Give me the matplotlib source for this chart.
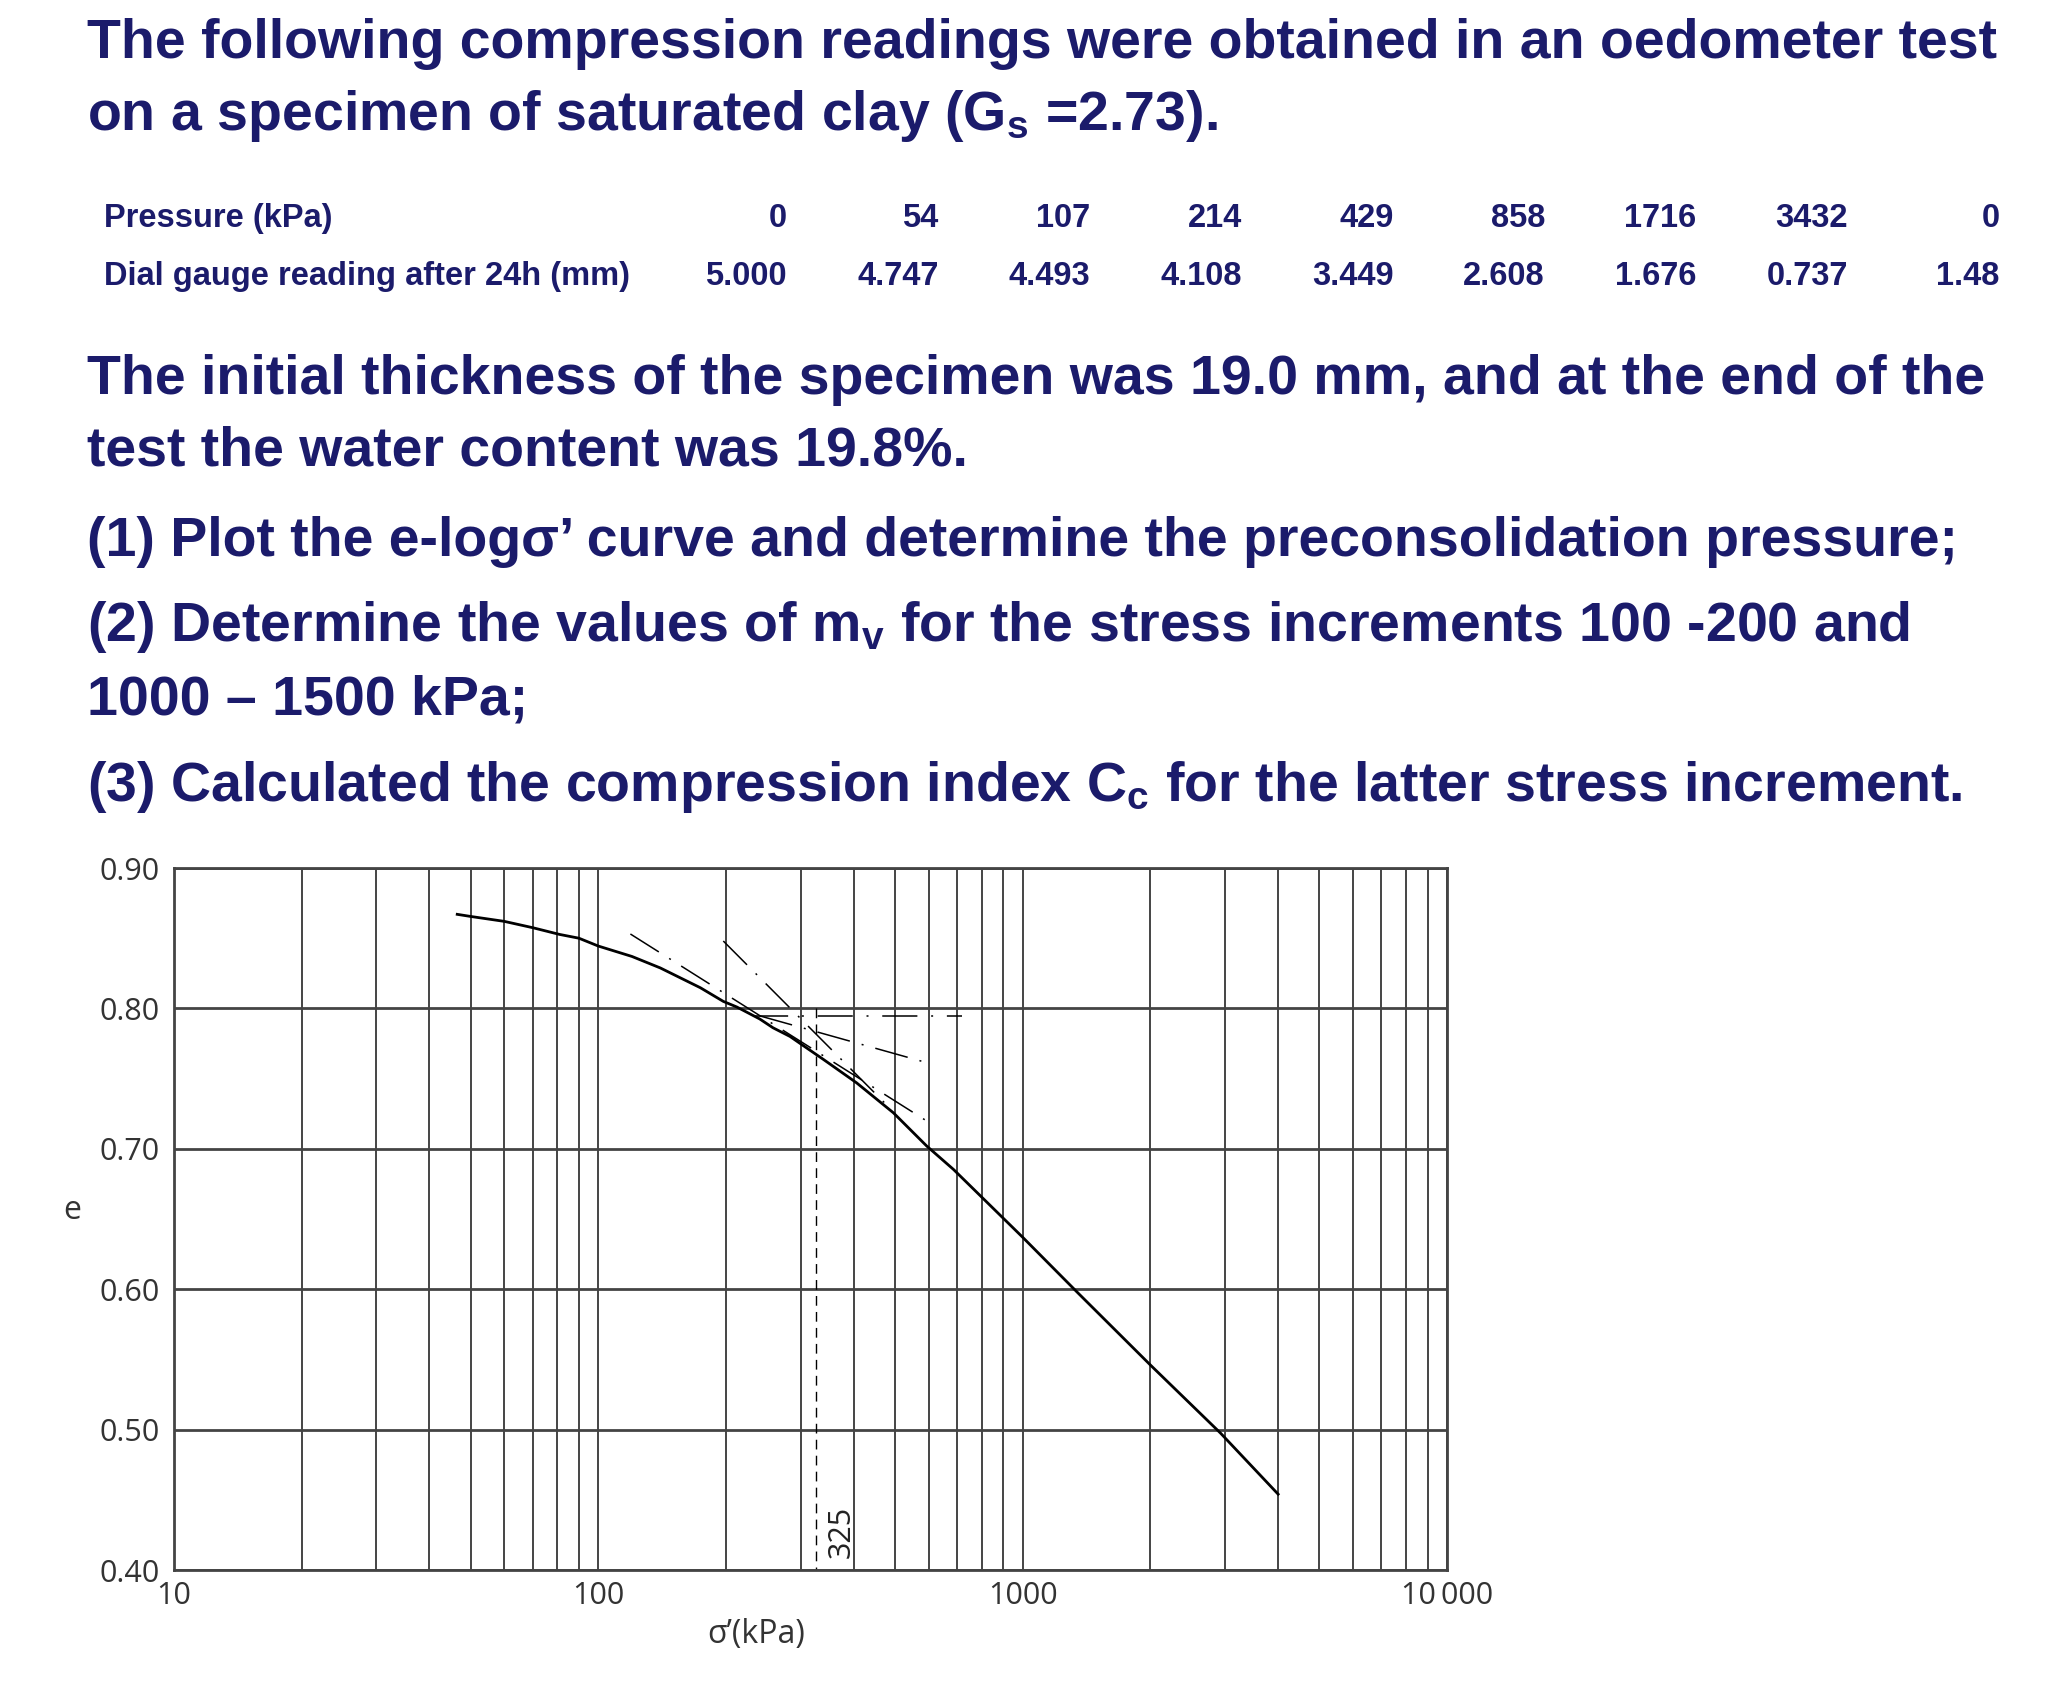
import matplotlib
matplotlib.use("Agg")
import matplotlib.pyplot as plt
from matplotlib.ticker import LogLocator, NullFormatter
import numpy as np

plt.rcParams['mathtext.fontset'] = 'custom'
plt.rcParams['mathtext.rm'] = 'Liberation Sans'
plt.rcParams['mathtext.bf'] = 'Liberation Sans:bold'
plt.rcParams['mathtext.it'] = 'Liberation Sans:italic'

NAVY = '#1b1b6b'
GRID = '#444444'
W, H = 2046, 1685

# oedometer readings (table)
pressure_kpa = ['0', '54', '107', '214', '429', '858', '1716', '3432', '0']
dial_mm = ['5.000', '4.747', '4.493', '4.108', '3.449', '2.608', '1.676', '0.737', '1.48']

# e - log sigma' curve
curve_sigma = [46.5, 50, 60, 70, 81, 90, 100, 120, 140, 174, 197, 212, 240, 258,
               283, 304, 339, 406, 496, 594, 687, 1000, 1343, 2000, 2926, 4000]
curve_e = [0.867, 0.8655, 0.862, 0.8575, 0.8527, 0.850, 0.8444, 0.837, 0.8288,
           0.8147, 0.805, 0.801, 0.7925, 0.7862, 0.780, 0.7735, 0.7637, 0.747,
           0.7256, 0.702, 0.6853, 0.637, 0.598, 0.546, 0.4975, 0.454]

# Casagrande construction lines
tangent_sigma = [119, 600]
tangent_e = [0.853, 0.719]
virgin_sigma = [197, 490]
virgin_e = [0.848, 0.728]
horiz_sigma = [232, 720]
horiz_e = [0.7945, 0.7945]
bisector_sigma = [240, 600]
bisector_e = [0.7947, 0.761]
sigma_c = 325

x_ticks = [10, 100, 1000, 10000]
x_ticklabels = ['10', '100', '1000', '10\u2009000']
y_ticks = [0.40, 0.50, 0.60, 0.70, 0.80, 0.90]

fig = plt.figure(figsize=(W / 100, H / 100), dpi=100)


def ftext(x_px, y_px, s, **kw):
    """place text using pixel coords (y measured from top, baseline)"""
    kw.setdefault('va', 'baseline')
    return fig.text(x_px / W, 1 - y_px / H, s, **kw)


big = dict(fontsize=40, fontweight='bold', color=NAVY, family='Liberation Sans')
ftext(87, 58, 'The following compression readings were obtained in an oedometer test', **big)
ftext(87, 130, r'on a specimen of saturated clay (G$_\mathbf{s}$ =2.73).', **big)

small = dict(fontsize=23.5, fontweight='bold', color=NAVY, family='Liberation Sans')
ftext(104, 227, 'Pressure (kPa)', **small)
ftext(104, 285, 'Dial gauge reading after 24h (mm)', **small)
for i, (p, d) in enumerate(zip(pressure_kpa, dial_mm)):
    xr = 787 + i * 151.6
    ftext(xr, 227, p, ha='right', **small)
    ftext(xr, 285, d, ha='right', **small)

ftext(87, 394, 'The initial thickness of the specimen was 19.0 mm, and at the end of the', **big)
ftext(87, 466, 'test the water content was 19.8%.', **big)
ftext(87, 556, "(1) Plot the e-log\u03c3\u2019 curve and determine the preconsolidation pressure;", **big)
ftext(87, 641, r'(2) Determine the values of m$_\mathbf{v}$ for the stress increments 100 -200 and', **big)
ftext(87, 714, '1000 \u2013 1500 kPa;', **big)
ftext(87, 801, r'(3) Calculated the compression index C$_\mathbf{c}$ for the latter stress increment.', **big)

# chart
left, right, top, bottom = 174, 1447, 868, 1570
ax = fig.add_axes([left / W, 1 - bottom / H, (right - left) / W, (bottom - top) / H])
ax.set_xscale('log')
ax.set_xlim(10, 10000)
ax.set_ylim(0.40, 0.90)

ax.set_xticks(x_ticks)
ax.set_xticklabels(x_ticklabels)
ax.xaxis.set_minor_locator(LogLocator(base=10, subs=range(2, 10)))
ax.xaxis.set_minor_formatter(NullFormatter())
ax.set_yticks(y_ticks)
ax.set_yticklabels([f'{v:.2f}' for v in y_ticks])

ax.grid(True, which='both', axis='x', color=GRID, lw=1.4)
ax.grid(True, which='major', axis='y', color=GRID, lw=2.0)
ax.set_axisbelow(True)
ax.tick_params(which='both', length=0, labelsize=22, labelcolor='#333333')
ax.tick_params(axis='y', pad=10)
ax.tick_params(axis='x', pad=8)
for lab in ax.get_xticklabels() + ax.get_yticklabels():
    lab.set_family(['Open Sans', 'DejaVu Sans'])
for sp in ax.spines.values():
    sp.set_color(GRID)
    sp.set_linewidth(2.0)

ax.plot(curve_sigma, curve_e, color='black', lw=2.0, solid_joinstyle='round')

dashdot = (0, (22, 8, 1.3, 8))
ax.plot(tangent_sigma, tangent_e, color='black', lw=1.1, linestyle=dashdot)
ax.plot(virgin_sigma, virgin_e, color='black', lw=1.1, linestyle=dashdot)
ax.plot(horiz_sigma, horiz_e, color='black', lw=1.1, linestyle=(0, (23, 9, 1.3, 9)))
ax.plot(bisector_sigma, bisector_e, color='black', lw=1.1, linestyle=dashdot)
ax.plot([sigma_c, sigma_c], [0.80, 0.40], color='black', lw=1.0, linestyle=(0, (7, 4.5)))
ax.text(375, 0.427, str(sigma_c), rotation=90, ha='center', va='center',
        fontsize=22, color='#222222', family=['Open Sans', 'DejaVu Sans'])

ftext(72, 1219, 'e', ha='center', fontsize=23, color='#333333', family=['Open Sans', 'DejaVu Sans'])
ftext(756, 1643, '\u03c3\u2019(kPa)', ha='center', fontsize=23, color='#333333',
      family=['Open Sans', 'DejaVu Sans'])

fig.savefig('out.png', dpi=100, facecolor='white')
